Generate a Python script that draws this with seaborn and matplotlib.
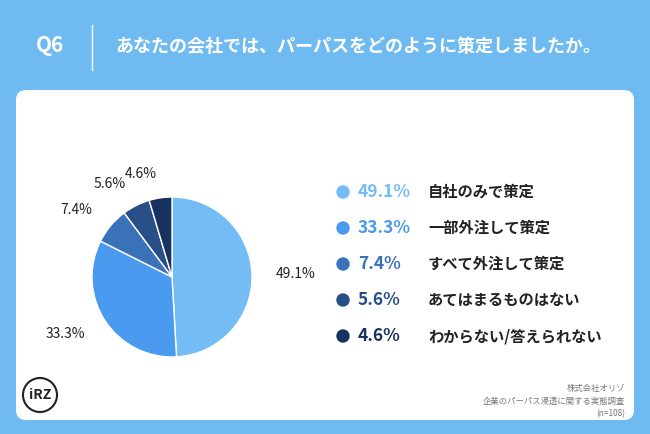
import matplotlib
matplotlib.use("Agg")
import matplotlib.pyplot as plt
from matplotlib.patches import FancyBboxPatch, Circle
import seaborn as sns

labels = ["自社のみで策定", "一部外注して策定", "すべて外注して策定", "あてはまるものはない", "わからない/答えられない"]
values = [49.1, 33.3, 7.4, 5.6, 4.6]
colors = ["#74BCF6", "#4A9AF0", "#3A72BA", "#294F88", "#17325E"]

sns.set_theme(style="white")
plt.rcParams["font.family"] = "Noto Sans CJK JP"
W, H = 650, 434
fig = plt.figure(figsize=(6.5, 4.34), dpi=100)
fig.patch.set_facecolor("#6FBAF1")
bg = fig.add_axes([0, 0, 1, 1]); bg.set_xlim(0, W); bg.set_ylim(H, 0); bg.axis("off")
bg.add_patch(FancyBboxPatch((16, 90), 618, 330, boxstyle="round,pad=0,rounding_size=10",
                            fc="white", ec="none"))
bg.text(50, 46, "Q6", color="white", fontsize=15, fontweight="bold", ha="center", va="center")
bg.plot([92, 92], [25, 70], color="white", lw=1)
bg.text(115, 46, "あなたの会社では、パーパスをどのように策定しましたか。", color="white",
        fontsize=13, fontweight="bold", va="center")
for i, (lab, v, c) in enumerate(zip(labels, values, colors)):
    y = 192 + i * 36
    bg.add_patch(Circle((343, y), 6, color=c))
    bg.text(358, y, f"{v}%", color=c, fontsize=12.5, fontweight="bold", va="center")
    bg.text(428, y, lab, color="#222222", fontsize=11, fontweight="bold", va="center")
bg.text(625, 388, "株式会社オリゾ", color="#777777", fontsize=6, ha="right", va="center")
bg.text(625, 401, "企業のパーパス浸透に関する実態調査", color="#777777", fontsize=6, ha="right", va="center")
bg.text(625, 414, "(n=108)", color="#777777", fontsize=6, ha="right", va="center")
bg.add_patch(Circle((40, 395), 17, fc="none", ec="#222222", lw=1.5))
bg.text(40, 395, "iRZ", fontsize=10, fontweight="bold", ha="center", va="center", color="#222222")

R = 80
ax = fig.add_axes([(172 - R)/W, 1 - (277 + R)/H, 2*R/W, 2*R/H])
ax.pie(values, colors=colors, startangle=90, counterclock=False,
       labels=[f"{v}%" for v in values], labeldistance=1.3,
       textprops=dict(fontsize=10, color="#222222", clip_on=False))
ax.set_xlim(-1, 1); ax.set_ylim(-1, 1)
ax.set_aspect("equal")
ax.axis("off")
fig.savefig("out.png", dpi=100, facecolor=fig.get_facecolor())
